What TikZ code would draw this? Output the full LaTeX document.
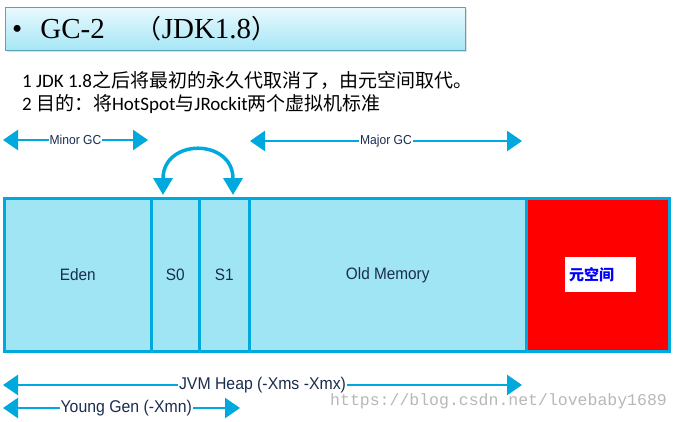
\documentclass[tikz,border=0pt]{standalone}
\usepackage{fontspec}
\setmainfont{Carlito}
\newfontfamily\cjk{Noto Sans CJK SC}
\newfontfamily\titlefont{Liberation Serif}
\newfontfamily\labelfont[FakeStretch=0.93]{Liberation Sans}
\newfontfamily\wmfont{Liberation Mono}
\usetikzlibrary{arrows.meta,shadows}
\definecolor{gcblue}{HTML}{00A9DD}
\definecolor{gcfill}{HTML}{9FE5F3}
\definecolor{gctext}{HTML}{1B2D4F}
\definecolor{titletop}{HTML}{E8F9FD}
\definecolor{titlebot}{HTML}{A6E6F6}
\definecolor{titleedge}{HTML}{5BA3BA}
\tikzset{
  part/.style={draw=gcblue, line width=2.5pt, fill=gcfill, anchor=north west, inner sep=0pt,
    font=\labelfont\fontsize{16.5}{18}\selectfont, text=gctext},
  spanarrow/.style={draw=gcblue, line width=2.6pt, {Triangle[length=15pt,width=20pt]}-{Triangle[length=15pt,width=20pt]}},
  swaparrow/.style={draw=gcblue, line width=3.5pt, {Triangle[length=17pt,width=19pt]}-{Triangle[length=17pt,width=19pt]}},
  spanlabel/.style={fill=white, inner sep=1pt, font=\labelfont\fontsize{17}{19}\selectfont, text=gctext},
  smalllabel/.style={fill=white, inner sep=1pt, font=\labelfont\fontsize{13}{15}\selectfont, text=gctext},
  textline/.style={anchor=west, inner sep=0pt, font=\fontsize{19}{22}\selectfont},
}
\begin{document}
\begin{tikzpicture}[x=1pt,y=-1pt]
\useasboundingbox (0,0) rectangle (678,421);
\fill[white] (0,0) rectangle (678,421);
% title
\node[draw=titleedge, line width=0.8pt, top color=titletop, bottom color=titlebot,
  minimum width=460pt, minimum height=43pt, anchor=north west, drop shadow={opacity=0.25, shadow xshift=1.5pt, shadow yshift=-1.5pt}] (title) at (5,7) {};
\node[anchor=west, inner sep=0pt, font=\titlefont\fontsize{29}{33}\selectfont] (titletext) at (12,29)
  {\textbullet\hspace{18pt}GC-2\hspace{31pt}{\cjk\fontsize{26}{30}\selectfont （}JDK1.8{\cjk\fontsize{26}{30}\selectfont ）}};
% text lines
\node[textline] (line1) at (22,80)
  {1 JDK 1.8{\cjk 之后将最初的永久代取消了，由元空间取代。}};
\node[textline] (line2) at (22,104)
  {2 {\cjk 目的：将}HotSpot{\cjk 与}JRockit{\cjk 两个虚拟机标准}};
% memory bar
\node[part, minimum width=147pt, minimum height=153pt] (eden) at (3,197) {Eden};
\node[part, minimum width=48pt, minimum height=153pt] (s0) at (150,197) {S0};
\node[part, minimum width=50pt, minimum height=153pt] (s1) at (198,197) {S1};
\node[part, minimum width=277pt, minimum height=153pt] (old) at (248,197) {Old Memory};
\node[part, fill=red, minimum width=143pt, minimum height=153pt] (meta) at (525,197) {};
\node[fill=white, minimum width=71pt, minimum height=35pt, inner sep=0pt, anchor=north west] (metabox) at (565,257) {};
\node[anchor=west, inner sep=0pt, text=blue, font=\cjk\bfseries\fontsize{15}{17}\selectfont] (metatext) at (569,275) {元空间};
% swap arrow
\coordinate (s0top) at (163,195);
\coordinate (s1top) at (233,195);
\draw[swaparrow] (s0top) .. controls (163,138) and (233,138) .. (s1top);
% Minor / Major GC
\coordinate (minL) at (3,140);
\coordinate (minR) at (148,140);
\draw[spanarrow] (minL) -- (minR) node[midway, smalllabel] (minlab) {Minor GC};
\coordinate (majL) at (250,141);
\coordinate (majR) at (522,141);
\draw[spanarrow] (majL) -- (majR) node[midway, smalllabel] (majlab) {Major GC};
% heap / young
\coordinate (heapL) at (3,385);
\coordinate (heapR) at (522,385);
\draw[spanarrow] (heapL) -- (heapR) node[midway, spanlabel] (heaplab) {JVM Heap (-Xms -Xmx)};
\coordinate (youngL) at (3,408);
\coordinate (youngR) at (240,408);
\draw[spanarrow] (youngL) -- (youngR) node[pos=0.52, spanlabel] (younglab) {Young Gen (-Xmn)};
% watermark
\node[anchor=west, inner sep=0pt, text=black!28, font=\wmfont\fontsize{16.5}{18}\selectfont] (wm) at (330,401) {https://blog.csdn.net/lovebaby1689};
\end{tikzpicture}
\end{document}
